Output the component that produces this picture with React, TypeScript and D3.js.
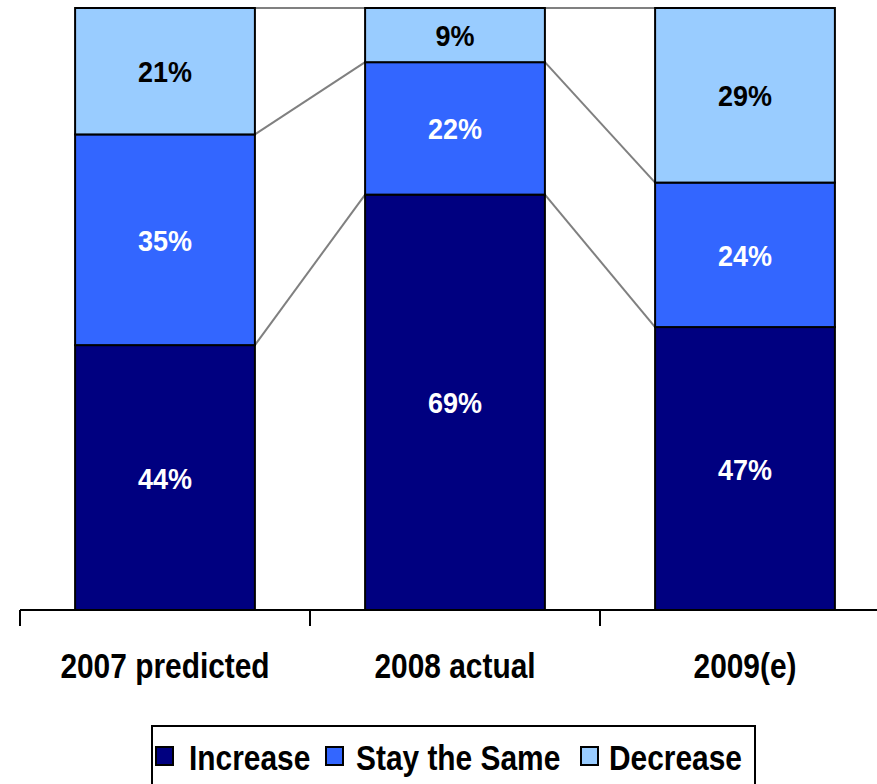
import * as d3 from "d3";
import { useEffect, useRef } from "react";

// data
const categories = ["2007 predicted", "2008 actual", "2009(e)"];
const seriesNames = ["Increase", "Stay the Same", "Decrease"];
const increase = [44, 69, 47];
const stayTheSame = [35, 22, 24];
const decrease = [21, 9, 29];
const colors = ["#000080", "#3366FF", "#99CCFF"];

const W = 877;
const H = 784;

function App() {
  const svgRef = useRef<SVGSVGElement>(null);

  useEffect(() => {
    const svg = d3.select(svgRef.current);
    svg.selectAll("*").remove();

    const rows = categories.map((c, i) => ({
      cat: c,
      Increase: increase[i],
      "Stay the Same": stayTheSame[i],
      Decrease: decrease[i],
    }));
    const stacked = d3.stack<any>().keys(seriesNames)(rows);

    const x = d3
      .scaleBand()
      .domain(categories)
      .range([20, 890])
      .paddingInner(0.38)
      .paddingOuter(0.19);
    const y = d3.scaleLinear().domain([0, 100]).range([610, 8]);
    const bw = x.bandwidth();
    const font = "Arial, 'Liberation Sans', sans-serif";

    // connector lines between bars
    const conn = svg.append("g");
    const levels = [0, ...stacked.map((s) => 0)]; // placeholder for indexes
    levels.forEach((_, li) => {
      for (let i = 0; i < categories.length - 1; i++) {
        const v1 = li === 0 ? 0 : stacked[li - 1][i][1];
        const v2 = li === 0 ? 0 : stacked[li - 1][i + 1][1];
        if (li === 0) continue;
        conn
          .append("line")
          .attr("x1", x(categories[i])! + bw)
          .attr("y1", y(v1))
          .attr("x2", x(categories[i + 1])!)
          .attr("y2", y(v2))
          .attr("stroke", "#808080")
          .attr("stroke-width", 2);
      }
    });

    // bars
    stacked.forEach((s, si) => {
      const g = svg.append("g");
      g.selectAll("rect")
        .data(s)
        .join("rect")
        .attr("x", (d: any) => x(d.data.cat)!)
        .attr("y", (d) => y(d[1]))
        .attr("width", bw)
        .attr("height", (d) => y(d[0]) - y(d[1]))
        .attr("fill", colors[si])
        .attr("stroke", "#000")
        .attr("stroke-width", 2);

      g.selectAll("text")
        .data(s)
        .join("text")
        .attr(
          "transform",
          (d: any) =>
            `translate(${x(d.data.cat)! + bw / 2},${(y(d[0]) + y(d[1])) / 2 + 11}) scale(0.9,1)`
        )
        .attr("text-anchor", "middle")
        .attr("font-family", font)
        .attr("font-weight", "bold")
        .attr("font-size", 30)
        .attr("fill", si === 2 ? "#000" : "#fff")
        .text((d) => `${d[1] - d[0]}%`);
    });

    // axis
    const ax = svg.append("g").attr("stroke", "#000").attr("stroke-width", 2);
    ax.append("line").attr("x1", 20).attr("x2", 890).attr("y1", y(0)).attr("y2", y(0));
    const step = x.step();
    [0, 1, 2, 3].forEach((k) => {
      const tx = 20 + k * step;
      ax.append("line").attr("x1", tx).attr("x2", tx).attr("y1", y(0)).attr("y2", y(0) + 16);
    });

    svg
      .append("g")
      .selectAll("text")
      .data(categories)
      .join("text")
      .attr("transform", (d) => `translate(${x(d)! + bw / 2},678) scale(0.83,1)`)
      .attr("text-anchor", "middle")
      .attr("font-family", font)
      .attr("font-weight", "bold")
      .attr("font-size", 36)
      .attr("fill", "#000")
      .text((d) => d);

    // legend
    const lg = svg.append("g");
    lg.append("rect")
      .attr("x", 152)
      .attr("y", 726)
      .attr("width", 603)
      .attr("height", 80)
      .attr("fill", "#fff")
      .attr("stroke", "#000")
      .attr("stroke-width", 2);
    const items = [
      { mx: 156, tx: 189 },
      { mx: 326, tx: 356 },
      { mx: 581, tx: 609 },
    ];
    seriesNames.forEach((n, i) => {
      lg.append("rect")
        .attr("x", items[i].mx)
        .attr("y", 747)
        .attr("width", 17)
        .attr("height", 18)
        .attr("fill", colors[i])
        .attr("stroke", "#000")
        .attr("stroke-width", 2);
      lg.append("text")
        .attr("transform", `translate(${items[i].tx},770) scale(0.83,1)`)
        .attr("font-family", font)
        .attr("font-weight", "bold")
        .attr("font-size", 36)
        .attr("fill", "#000")
        .text(n);
    });
  }, []);

  return (
    <svg
      ref={svgRef}
      width={W}
      height={H}
      style={{ position: "absolute", left: 0, top: 0, background: "#fff" }}
    ></svg>
  );
}

export default App;
